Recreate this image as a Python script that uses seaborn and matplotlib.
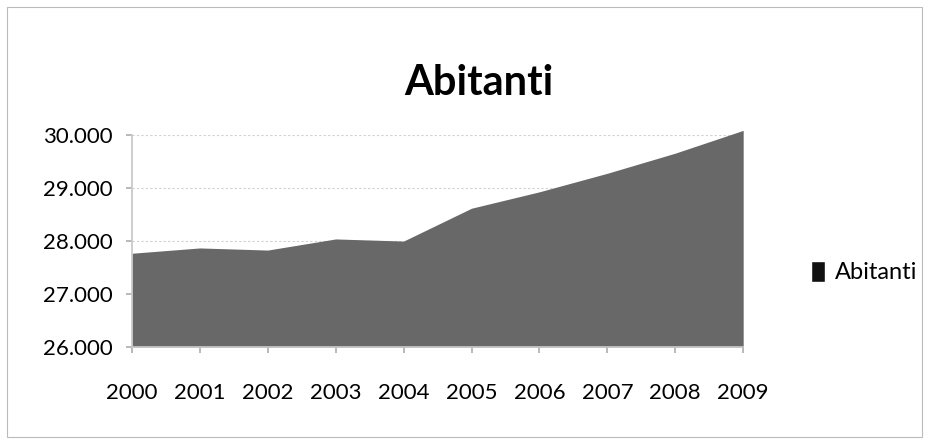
import matplotlib
matplotlib.use("Agg")
import matplotlib.pyplot as plt
import seaborn as sns
import pandas as pd
from matplotlib.patches import Rectangle, Patch

anni = [2000, 2001, 2002, 2003, 2004, 2005, 2006, 2007, 2008, 2009]
abitanti = [27770, 27870, 27830, 28040, 28000, 28620, 28930, 29280, 29660, 30090]
y_ticks = [26000, 27000, 28000, 29000, 30000]
y_labels = ["26.000", "27.000", "28.000", "29.000", "30.000"]

df = pd.DataFrame({"Anno": anni, "Abitanti": abitanti})

sns.set_theme(style="white")
plt.rcParams["font.family"] = ["Lato", "DejaVu Sans"]
plt.rcParams["text.color"] = "black"
plt.rcParams["xtick.color"] = "black"
plt.rcParams["ytick.color"] = "black"

fig = plt.figure(figsize=(9.29, 4.46), dpi=100)
ax = fig.add_axes([0.142, 0.222, 0.658, 0.475])

grigio = "#686868"
sns.lineplot(data=df, x="Anno", y="Abitanti", ax=ax, color=grigio, linewidth=0)
ax.fill_between(df["Anno"], 26000, df["Abitanti"], color=grigio, linewidth=0, clip_on=False)

ax.set_xlim(2000, 2009)
ax.set_ylim(26000, 30000)
ax.set_xticks(anni)
ax.set_xticklabels([str(a) for a in anni], fontsize=16)
ax.set_yticks(y_ticks)
ax.set_yticklabels(y_labels, fontsize=16)
ax.set_xlabel("")
ax.set_ylabel("")
ax.yaxis.grid(True, color="#d0d0d0", linestyle=(0, (2, 2)), linewidth=0.8)
ax.set_axisbelow(True)

for s in ["top", "right"]:
    ax.spines[s].set_visible(False)
ax.spines["left"].set_color("#c8c8c8")
ax.spines["bottom"].set_color("#c8c8c8")
ax.tick_params(axis="x", length=4, color="#b0b0b0", pad=22, direction="out", bottom=True, labelcolor="black")
ax.tick_params(axis="y", length=4, color="#b0b0b0", pad=10, direction="out", left=True, labelcolor="black")

fig.text(0.515, 0.815, "Abitanti", ha="center", va="center", fontsize=30, fontweight="bold", color="black")

fig.legend(handles=[Patch(facecolor="#111111", label="Abitanti")],
           loc="center left", bbox_to_anchor=(0.85, 0.39), frameon=False,
           fontsize=17, handlelength=0.6, handleheight=1.0, handletextpad=0.4)

fig.patches.append(Rectangle((0.008, 0.02), 0.985, 0.965, transform=fig.transFigure,
                             fill=False, edgecolor="#bbbbbb", linewidth=0.8))

fig.savefig("out.png", dpi=100)
